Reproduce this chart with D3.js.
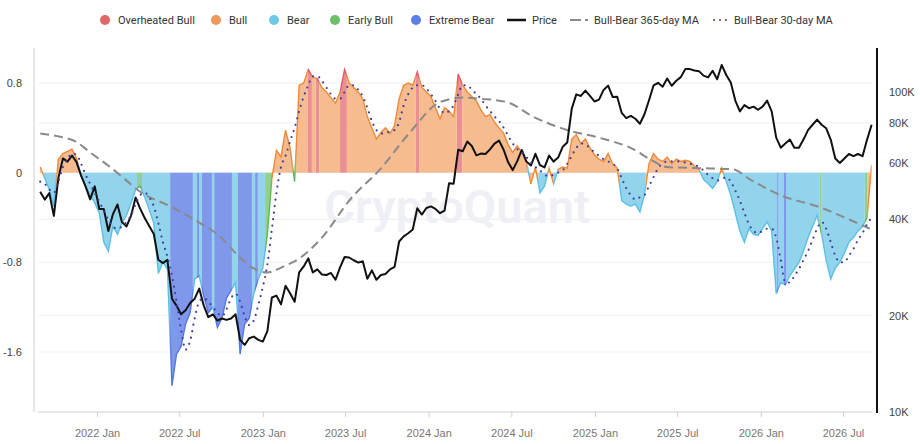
<!DOCTYPE html>
<html>
<head>
<meta charset="utf-8">
<script src="https://cdn.jsdelivr.net/npm/d3@7"></script>
<style>
  body { margin: 0; background: #fff; }
  svg { display: block; font-family: "Segoe UI", Roboto, "Noto Sans", sans-serif; }
</style>
</head>
<body>
<svg id="chart"></svg>
<script>
// samples every 10 days from startDate
const startDate = "2021-08-29";
const stepDays = 10;

const bullBear = [
  0.05, -0.05, -0.15, -0.30, 0.12, 0.17, 0.19, 0.21, 0.13, -0.03,
  -0.12, -0.20, -0.27, -0.36, -0.62, -0.70, -0.48, -0.55, -0.45, -0.38,
  -0.27, -0.15, -0.12, -0.22, -0.33, -0.45, -0.90, -0.80, -0.86, -1.90,
  -1.62, -1.55, -1.35, -1.25, -0.95, -0.92, -1.10, -1.25, -1.20, -1.38,
  -1.30, -1.12, -1.05, -0.98, -1.62, -1.35, -1.30, -1.08, -0.95, -0.85,
  -0.55, -0.05, 0.20, 0.14, 0.38, 0.22, -0.08, 0.78, 0.80, 0.92,
  0.85, 0.84, 0.76, 0.72, 0.67, 0.62, 0.72, 0.92, 0.80, 0.76,
  0.72, 0.66, 0.50, 0.40, 0.30, 0.36, 0.40, 0.35, 0.42, 0.66,
  0.78, 0.80, 0.78, 0.90, 0.76, 0.72, 0.68, 0.58, 0.48, 0.58,
  0.55, 0.50, 0.88, 0.78, 0.72, 0.68, 0.64, 0.56, 0.50, 0.52,
  0.45, 0.40, 0.35, 0.25, 0.18, 0.24, 0.18, 0.10, -0.10, 0.05,
  -0.18, -0.12, 0.04, -0.10, 0.03, 0.05, 0.04, 0.30, 0.34, 0.26,
  0.30, 0.22, 0.16, 0.12, 0.10, 0.17, 0.08, 0.04, -0.25, -0.28,
  -0.30, -0.28, -0.35, -0.20, 0.08, 0.17, 0.12, 0.10, 0.14, 0.08,
  0.12, 0.10, 0.11, 0.10, 0.06, 0.03, -0.06, -0.10, -0.14, -0.08,
  0.04, -0.08, -0.20, -0.36, -0.52, -0.62, -0.50, -0.55, -0.56, -0.50,
  -0.44, -0.52, -1.08, -0.98, -1.00, -0.92, -0.86, -0.80, -0.70, -0.58,
  -0.48, -0.38, -0.55, -0.78, -0.95, -0.85, -0.80, -0.72, -0.62, -0.58,
  -0.52, -0.48, -0.40, 0.07
];

const bullBear30 = [
  -0.08, -0.10, -0.15, -0.18, -0.08, 0.05, 0.12, 0.17, 0.16, 0.08,
  -0.02, -0.10, -0.18, -0.26, -0.34, -0.42, -0.48, -0.50, -0.48, -0.44,
  -0.38, -0.28, -0.20, -0.18, -0.22, -0.30, -0.45, -0.62, -0.75, -0.92,
  -1.15, -1.40, -1.58, -1.50, -1.30, -1.15, -1.12, -1.15, -1.20, -1.25,
  -1.28, -1.22, -1.12, -1.08, -1.15, -1.28, -1.36, -1.32, -1.18, -1.02,
  -0.82, -0.50, -0.18, 0.05, 0.15, 0.28, 0.40, 0.55, 0.68, 0.78,
  0.86, 0.86, 0.82, 0.76, 0.70, 0.66, 0.66, 0.72, 0.78, 0.78,
  0.74, 0.68, 0.58, 0.46, 0.38, 0.35, 0.35, 0.37, 0.38, 0.45,
  0.60, 0.70, 0.76, 0.78, 0.78, 0.75, 0.70, 0.64, 0.57, 0.53,
  0.55, 0.60, 0.70, 0.78, 0.78, 0.74, 0.70, 0.66, 0.60, 0.55,
  0.50, 0.46, 0.40, 0.33, 0.26, 0.21, 0.18, 0.14, 0.09, 0.05,
  0.02, -0.02, -0.03, -0.02, 0.00, 0.02, 0.08, 0.15, 0.22, 0.26,
  0.25, 0.22, 0.18, 0.15, 0.12, 0.10, 0.08, 0.04, -0.05, -0.14,
  -0.20, -0.24, -0.22, -0.20, -0.12, -0.04, 0.04, 0.08, 0.10, 0.10,
  0.10, 0.10, 0.09, 0.08, 0.07, 0.05, 0.02, -0.02, -0.05, -0.07,
  -0.06, -0.04, -0.08, -0.16, -0.25, -0.36, -0.46, -0.52, -0.54, -0.52,
  -0.50, -0.50, -0.58, -0.78, -0.98, -0.98, -0.92, -0.86, -0.78, -0.70,
  -0.60, -0.50, -0.44, -0.50, -0.62, -0.74, -0.80, -0.80, -0.74, -0.68,
  -0.60, -0.54, -0.46, -0.40
];

// BTC price in thousands of USD
const priceK = [
  48.8, 46.1, 48.3, 41.0, 53.9, 62.0, 60.6, 63.3, 60.4, 54.8,
  50.6, 46.2, 50.7, 43.1, 43.1, 36.8, 41.5, 44.5, 39.2, 38.0,
  41.1, 46.8, 43.2, 40.4, 38.1, 36.0, 29.9, 29.2, 29.9, 22.6,
  21.5, 20.2, 20.8, 21.9, 22.6, 24.3, 21.5, 19.8, 20.2, 19.3,
  19.6, 19.4, 19.6, 20.2, 16.8, 16.2, 17.0, 17.2, 16.8, 16.6,
  17.9, 22.8, 23.1, 21.7, 24.8, 23.5, 22.1, 27.3, 28.5, 30.2,
  27.3, 27.9, 26.9, 26.8, 27.2, 25.9, 28.3, 30.5, 30.4, 29.8,
  29.3, 29.6, 26.1, 27.7, 25.9, 26.8, 27.0, 27.9, 28.4, 34.1,
  35.4, 36.2, 37.2, 43.3, 41.4, 43.4, 43.9, 43.1, 41.8, 42.6,
  51.9, 51.7, 66.0, 65.3, 70.0, 67.8, 63.4, 64.2, 64.0, 66.2,
  69.0, 70.5, 66.0, 60.3, 57.0, 60.8, 65.9, 60.7, 58.9, 64.1,
  59.1, 58.1, 63.3, 60.6, 62.4, 67.4, 69.5, 88.7, 98.3, 97.2,
  101.0, 97.2, 93.4, 94.7, 101.5, 104.7, 96.5, 96.6, 86.0, 82.9,
  84.2, 82.5, 79.6, 85.2, 94.2, 104.8, 106.8, 103.9, 110.2, 104.6,
  108.4, 111.3, 118.0, 117.9, 116.7, 116.2, 112.5, 111.1, 116.5, 109.6,
  121.5, 113, 107, 94, 87, 91, 89, 90, 88, 90,
  94, 87, 72, 67, 69, 71, 67, 67, 71, 76,
  79, 82, 79, 77, 71, 62, 60, 62, 64, 63,
  64, 63, 71, 79
];

const ma365Dates = [
  "2021-08-29", "2021-10-12", "2021-11-14", "2021-12-17", "2022-01-30", "2022-03-04",
  "2022-04-06", "2022-06-11", "2022-08-16", "2022-09-29", "2022-11-05", "2022-12-10",
  "2023-01-10", "2023-02-14", "2023-03-24", "2023-05-13", "2023-07-12", "2023-09-16",
  "2023-11-21", "2024-01-26", "2024-03-17", "2024-04-23", "2024-06-21", "2024-08-18",
  "2024-11-01", "2025-01-12", "2025-03-26", "2025-05-02", "2025-06-09", "2025-08-20",
  "2025-11-01", "2025-12-08", "2026-02-19", "2026-05-05", "2026-07-16", "2026-08-29"
];
const ma365Values = [
  0.35, 0.32, 0.28, 0.18, 0.05, -0.06,
  -0.17, -0.30, -0.45, -0.57, -0.73, -0.85,
  -0.89, -0.84, -0.76, -0.57, -0.24, 0.03,
  0.36, 0.63, 0.67, 0.66, 0.63, 0.50,
  0.38, 0.31, 0.21, 0.12, 0.05, 0.04,
  0.03, -0.06, -0.21, -0.30, -0.42, -0.50
];

const stateNames = ["Overheated Bull", "Bull", "Bear", "Early Bull", "Extreme Bear"];
const stateDot = ["#e06868", "#f0975a", "#6ccae8", "#6cc06a", "#5b7fe6"];
const stateFill = ["#ea9093", "#f6bb8e", "#92d4ec", "#92d18d", "#7f98ec"];
const stateLine = ["#e0606a", "#ef8a3a", "#5cc0e6", "#5cb85c", "#5577e6"];

// each run lasts until the next start
const runStarts = [
  "2021-08-24", "2021-09-06", "2021-10-03", "2021-11-22", "2022-03-30", "2022-04-10",
  "2022-06-11", "2022-07-31", "2022-08-09", "2022-08-14", "2022-08-20", "2022-09-11",
  "2022-09-16", "2022-10-25", "2022-11-07", "2022-12-08", "2022-12-15", "2022-12-21",
  "2023-01-06", "2023-01-21", "2023-03-08", "2023-03-13", "2023-04-09", "2023-04-19",
  "2023-04-27", "2023-05-05", "2023-06-20", "2023-07-05", "2023-12-04", "2023-12-11",
  "2024-03-03", "2024-03-15", "2024-08-05", "2024-08-11", "2024-08-29", "2024-09-20",
  "2024-10-01", "2024-10-12", "2025-02-23", "2025-04-23", "2025-08-20", "2025-10-03",
  "2025-10-10", "2026-02-06", "2026-02-09", "2026-02-21", "2026-02-26", "2026-05-11",
  "2026-05-15", "2026-08-18", "2026-08-24"
];
const runStates = [
  "Bull", "Bear", "Bull", "Bear", "Early Bull", "Bear",
  "Extreme Bear", "Bear", "Extreme Bear", "Bear", "Extreme Bear", "Bear",
  "Extreme Bear", "Bear", "Extreme Bear", "Bear", "Extreme Bear", "Bear",
  "Early Bull", "Bull", "Early Bull", "Bull", "Overheated Bull", "Bull",
  "Overheated Bull", "Bull", "Overheated Bull", "Bull", "Overheated Bull", "Bull",
  "Overheated Bull", "Bull", "Bear", "Bull", "Bear", "Bull",
  "Bear", "Bull", "Bear", "Bull", "Bear", "Bull",
  "Bear", "Extreme Bear", "Bear", "Extreme Bear", "Bear", "Early Bull",
  "Bear", "Early Bull", "Bull"
];
const runEnd = "2026-09-02";

const xTickDates = ["2022-01-01", "2022-07-01", "2023-01-01", "2023-07-01", "2024-01-01",
  "2024-07-01", "2025-01-01", "2025-07-01", "2026-01-01", "2026-07-01"];
const xTickLabels = ["2022 Jan", "2022 Jul", "2023 Jan", "2023 Jul", "2024 Jan",
  "2024 Jul", "2025 Jan", "2025 Jul", "2026 Jan", "2026 Jul"];
const leftTicks = [0.8, 0, -0.8, -1.6];
const rightTicks = [10000, 20000, 40000, 60000, 80000, 100000];
const rightTickLabels = ["10K", "20K", "40K", "60K", "80K", "100K"];
const priceGrid = [20000, 40000, 80000];

document.addEventListener("DOMContentLoaded", function () {
    const width = 920;
    const height = 444;
    const plotTop = 48, plotBottom = 412, plotLeft = 34, plotRight = 877;

    const svg = d3.select("#chart")
        .attr("width", width)
        .attr("height", height);

    const parse = d3.utcParse("%Y-%m-%d");
    const start = parse(startDate);
    const dates = bullBear.map((d, i) => d3.utcDay.offset(start, i * stepDays));

    const x = d3.scaleUtc()
        .domain([parse("2022-01-01"), parse("2026-07-01")])
        .range([97, 843]);
    const y = d3.scaleLinear().domain([-1.6, 0.8]).range([352, 83]);
    const yPrice = d3.scaleLog().domain([10000, 100000]).range([412, 92]);

    // grid
    const grid = svg.append("g").attr("stroke", "#f0f0f0").attr("stroke-width", 1);
    leftTicks.forEach(t => grid.append("line")
        .attr("x1", 38).attr("x2", 872).attr("y1", y(t)).attr("y2", y(t)));
    priceGrid.forEach(t => grid.append("line")
        .attr("x1", 38).attr("x2", 872).attr("y1", yPrice(t)).attr("y2", yPrice(t)));

    // watermark
    svg.append("text")
        .attr("x", 457).attr("y", 223)
        .attr("text-anchor", "middle")
        .attr("font-size", 47)
        .attr("font-weight", 600)
        .attr("fill", "#eef0f5")
        .text("CryptoQuant");

    // bull-bear areas, one clipped layer per state
    const pts = dates.map((d, i) => ({ date: d, v: bullBear[i] }));
    const area = d3.area().x(d => x(d.date)).y0(y(0)).y1(d => y(d.v));
    const line = d3.line().x(d => x(d.date)).y(d => y(d.v));
    const defs = svg.append("defs");

    stateNames.forEach((name, s) => {
        const clip = defs.append("clipPath").attr("id", "clip" + s);
        runStates.forEach((st, r) => {
            if (st !== name) return;
            const x0 = x(parse(runStarts[r]));
            const x1 = x(parse(r + 1 < runStarts.length ? runStarts[r + 1] : runEnd));
            clip.append("rect")
                .attr("x", x0).attr("y", plotTop - 10)
                .attr("width", x1 - x0).attr("height", plotBottom - plotTop + 20);
        });
        const g = svg.append("g").attr("clip-path", `url(#clip${s})`);
        g.append("path").datum(pts)
            .attr("d", area)
            .attr("fill", stateFill[s]);
        g.append("path").datum(pts)
            .attr("d", line)
            .attr("fill", "none")
            .attr("stroke", stateLine[s])
            .attr("stroke-width", 1.4);
    });

    // 365-day MA
    const maLine = d3.line()
        .x(d => x(d[0])).y(d => y(d[1]))
        .curve(d3.curveMonotoneX);
    svg.append("path")
        .datum(ma365Dates.map((d, i) => [parse(d), ma365Values[i]]))
        .attr("d", maLine)
        .attr("fill", "none")
        .attr("stroke", "#8a8a8a")
        .attr("stroke-width", 2)
        .attr("stroke-dasharray", "9,5");

    // price
    svg.append("path")
        .datum(dates.map((d, i) => [d, priceK[i] * 1000]))
        .attr("d", d3.line().x(d => x(d[0])).y(d => yPrice(d[1])))
        .attr("fill", "none")
        .attr("stroke", "#111")
        .attr("stroke-width", 2)
        .attr("stroke-linejoin", "round");

    // 30-day MA
    svg.append("path")
        .datum(dates.map((d, i) => [d, bullBear30[i]]))
        .attr("d", maLine)
        .attr("fill", "none")
        .attr("stroke", "#3f3d9c")
        .attr("stroke-width", 2.2)
        .attr("stroke-linecap", "round")
        .attr("stroke-dasharray", "0,6.5");

    // axes
    svg.append("line")
        .attr("x1", plotLeft).attr("x2", plotLeft)
        .attr("y1", plotTop).attr("y2", plotBottom)
        .attr("stroke", "#d0d0d0");
    svg.append("line")
        .attr("x1", 38).attr("x2", 872)
        .attr("y1", plotBottom).attr("y2", plotBottom)
        .attr("stroke", "#d0d0d0");
    svg.append("line")
        .attr("x1", plotRight).attr("x2", plotRight)
        .attr("y1", plotTop).attr("y2", plotBottom + 1)
        .attr("stroke", "#111")
        .attr("stroke-width", 2);

    const leftAxis = svg.append("g")
        .attr("transform", `translate(${plotLeft},0)`)
        .call(d3.axisLeft(y).tickValues(leftTicks).tickSize(0).tickPadding(12)
            .tickFormat(d => d === 0 ? "0" : d));
    const bottomAxis = svg.append("g")
        .attr("transform", `translate(0,${plotBottom})`)
        .call(d3.axisBottom(x).tickValues(xTickDates.map(parse)).tickSize(5).tickPadding(12)
            .tickFormat((d, i) => xTickLabels[i]));
    const rightAxis = svg.append("g")
        .attr("transform", `translate(${plotRight},0)`)
        .call(d3.axisRight(yPrice).tickValues(rightTicks).tickSize(0).tickPadding(12)
            .tickFormat((d, i) => rightTickLabels[i]));

    [leftAxis, bottomAxis, rightAxis].forEach(a => {
        a.select(".domain").remove();
        a.selectAll("text").attr("font-size", 11).attr("font-family", null);
    });
    leftAxis.selectAll("text").attr("fill", "#444");
    rightAxis.selectAll("text").attr("fill", "#444");
    bottomAxis.selectAll("text").attr("fill", "#777");
    bottomAxis.selectAll("line").attr("stroke", "#d0d0d0");

    // legend
    const legend = svg.append("g").attr("font-size", 11).attr("fill", "#333");
    const dotX = [105, 216, 274, 335, 416];
    stateNames.forEach((name, i) => {
        legend.append("circle")
            .attr("cx", dotX[i]).attr("cy", 20).attr("r", 5)
            .attr("fill", stateDot[i]);
        legend.append("text")
            .attr("x", dotX[i] + 13).attr("y", 24)
            .text(name);
    });
    legend.append("line")
        .attr("x1", 507).attr("x2", 526).attr("y1", 20).attr("y2", 20)
        .attr("stroke", "#111").attr("stroke-width", 2.5);
    legend.append("text").attr("x", 532).attr("y", 24).text("Price");
    legend.append("line")
        .attr("x1", 570).attr("x2", 589).attr("y1", 20).attr("y2", 20)
        .attr("stroke", "#8a8a8a").attr("stroke-width", 2)
        .attr("stroke-dasharray", "11,4,3");
    legend.append("text").attr("x", 594).attr("y", 24).text("Bull-Bear 365-day MA");
    legend.append("line")
        .attr("x1", 714).attr("x2", 727).attr("y1", 20).attr("y2", 20)
        .attr("stroke", "#3f3d9c").attr("stroke-width", 2)
        .attr("stroke-linecap", "round")
        .attr("stroke-dasharray", "0,6");
    legend.append("text").attr("x", 734).attr("y", 24).text("Bull-Bear 30-day MA");
});
</script>
</body>
</html>
